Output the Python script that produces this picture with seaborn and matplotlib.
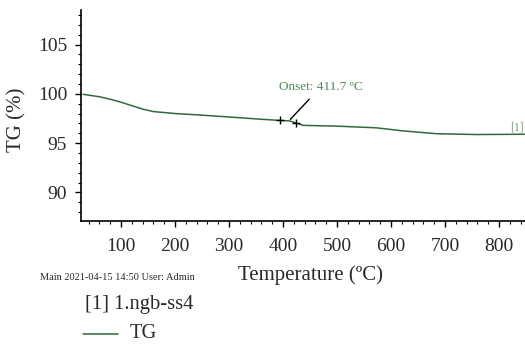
import matplotlib
matplotlib.use("Agg")
import matplotlib.pyplot as plt
from matplotlib.ticker import MultipleLocator
from matplotlib.lines import Line2D
import seaborn as sns
import pandas as pd

# TG curve of sample 1.ngb-ss4
temperature = [30, 60, 80, 100, 120, 140, 160, 200, 246, 300, 357, 394, 412, 424, 437, 500, 573, 620, 685, 758, 848]
tg_percent = [99.95, 99.7, 99.45, 99.15, 98.8, 98.45, 98.2, 98.0, 97.85, 97.65, 97.43, 97.3, 97.25, 97.05, 96.8, 96.72, 96.55, 96.25, 95.95, 95.87, 95.9]

# onset construction points and evaluated onset
onset_marks_t = [394, 424]
onset_marks_tg = [97.3, 97.05]
onset_temp = 411.7
onset_tg = 97.3

x_ticks = [100, 200, 300, 400, 500, 600, 700, 800]
y_ticks = [90, 95, 100, 105]

sns.set_theme(style="ticks")
plt.rcParams["font.family"] = ["Liberation Serif", "DejaVu Serif"]

LINE = "#2f6b3a"
TEXT = "#2a2a2a"

fig = plt.figure(figsize=(5.25, 3.45), dpi=100)
ax = fig.add_axes([81 / 525, 1 - 221 / 345, 1 - 81 / 525, (221 - 10) / 345])

df = pd.DataFrame({"T": temperature, "TG": tg_percent})
sns.lineplot(data=df, x="T", y="TG", ax=ax, color=LINE, lw=1.1, estimator=None, sort=False)

marks = pd.DataFrame({"T": onset_marks_t, "TG": onset_marks_tg})
sns.scatterplot(data=marks, x="T", y="TG", ax=ax, marker="+", color="black", s=30,
                linewidth=1.0, zorder=5)

ax.annotate(f"Onset: {onset_temp} \u00baC", xy=(onset_temp, onset_tg), xytext=(470, 100.7),
            ha="center", va="center", fontsize=9.5, color="#4f8a5a",
            arrowprops=dict(arrowstyle="-", color="black", lw=1.0, shrinkA=3, shrinkB=1))

ax.text(846, 96.0, "[1]", fontsize=8.5, color="#7a9a80", ha="right", va="bottom", clip_on=False)

ax.set_xlim(26, 848)
ax.set_ylim(87.1, 108.5)
ax.set_xticks(x_ticks)
ax.set_yticks(y_ticks)
ax.xaxis.set_minor_locator(MultipleLocator(20))
ax.yaxis.set_minor_locator(MultipleLocator(1))
ax.tick_params(axis="both", which="major", direction="out", length=4, width=1.0,
               labelsize=14, colors="black", labelcolor=TEXT)
ax.tick_params(axis="x", which="major", pad=8)
ax.tick_params(axis="y", which="major", pad=6)
ax.tick_params(axis="both", which="minor", direction="out", length=2, width=0.8, colors="black")
ax.set_xlabel("")
ax.set_ylabel("")
for side in ("top", "right"):
    ax.spines[side].set_visible(False)
for side in ("left", "bottom"):
    ax.spines[side].set_color("black")
    ax.spines[side].set_linewidth(1.2)

fig.text(17 / 525, 1 - 120 / 345, "TG (%)", rotation=90, ha="center", va="center",
         fontsize=15, color=TEXT)
fig.text(310 / 525, 1 - 275 / 345, "Temperature (\u00baC)", ha="center", va="center",
         fontsize=15, color=TEXT)
fig.text(40 / 525, 1 - 278 / 345, "Main 2021-04-15 14:50 User: Admin", ha="left", va="center",
         fontsize=7.5, color=TEXT)
fig.text(85 / 525, 1 - 305 / 345, "[1] 1.ngb-ss4", ha="left", va="center",
         fontsize=14.8, color=TEXT)
fig.add_artist(Line2D([83 / 525, 118 / 525], [1 - 334 / 345, 1 - 334 / 345],
                      transform=fig.transFigure, color=LINE, lw=1.1))
fig.text(130 / 525, 1 - 333 / 345, "TG", ha="left", va="center", fontsize=14.8, color=TEXT)

fig.savefig("out.png", dpi=100)
